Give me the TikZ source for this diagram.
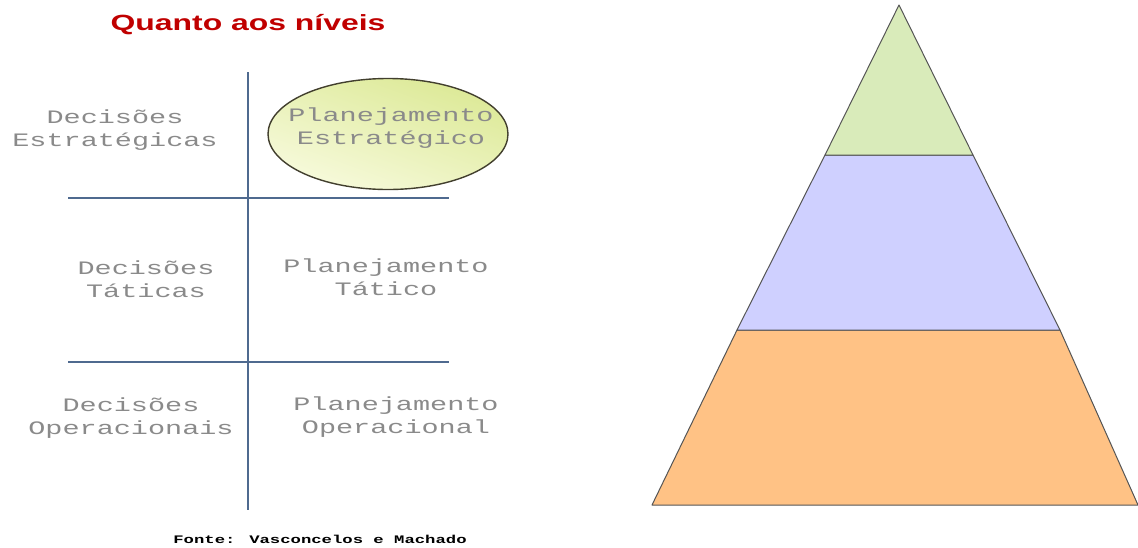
\documentclass[tikz,border=0pt]{standalone}
\usepackage{fontspec}
\setmainfont{Liberation Sans}
\newfontfamily\monofont{Liberation Mono}
\usetikzlibrary{shapes.geometric}
\definecolor{titlered}{HTML}{C00000}
\definecolor{txtgray}{HTML}{8A8A8A}
\definecolor{gridblue}{HTML}{4F6A8F}
\definecolor{pyrgreen}{HTML}{D9EBBA}
\definecolor{pyrblue}{HTML}{CFD0FF}
\definecolor{pyrorange}{HTML}{FFC285}
\definecolor{edgegray}{HTML}{555555}
\definecolor{ellA}{HTML}{DCE996}
\definecolor{ellB}{HTML}{F7FADC}
\tikzset{
  lbl/.style={font=\monofont\fontsize{19}{23}\selectfont, text=txtgray, align=center, xscale=1.5, transform shape, inner sep=0pt},
  gridline/.style={draw=gridblue, line width=1.3pt},
  tier/.style={draw=edgegray, line width=1pt, line join=round}
}
\begin{document}
\begin{tikzpicture}[x=1pt,y=-1pt]
\useasboundingbox (0,0) rectangle (1138,547);
% title
\node[font=\bfseries\fontsize{22}{26}\selectfont, text=titlered, xscale=1.45, transform shape, inner sep=0pt] (title) at (248,25) {Quanto aos níveis};
% grid
\coordinate (vtop) at (248,72);
\coordinate (vbot) at (248,510);
\coordinate (h1l) at (68,198);
\coordinate (h1r) at (449,198);
\coordinate (h2l) at (68,362);
\coordinate (h2r) at (449,362);
\draw[gridline] (vtop) -- (vbot);
\draw[gridline] (h1l) -- (h1r);
\draw[gridline] (h2l) -- (h2r);
% ellipse
\node[ellipse, minimum width=240pt, minimum height=111pt, draw=black!70!olive, line width=1.4pt, top color=ellA, bottom color=ellB, shading angle=-20] (ell) at (388,134) {};
% labels
\node[lbl] (de) at (115,130) {Decisões\\Estratégicas};
\node[lbl] (pe) at (391,128) {Planejamento\\Estratégico};
\node[lbl] (dt) at (146,279) {Decisões\\Táticas};
\node[lbl] (pt) at (386,277) {Planejamento\\Tático};
\node[lbl] (do) at (131,418) {Decisões\\Operacionais};
\node[lbl] (po) at (396,417) {Planejamento\\Operacional};
% source
\node[font=\monofont\bfseries\fontsize{11.5}{14}\selectfont, xscale=1.5, transform shape, inner sep=0pt] (fonte) at (320,539) {Fonte: Vasconcelos e Machado};
% pyramid
\coordinate (apex) at (899,5);
\coordinate (t1l) at (825,155);
\coordinate (t1r) at (973,155);
\coordinate (t2l) at (737,330);
\coordinate (t2r) at (1060,330);
\coordinate (bl) at (652,505);
\coordinate (br) at (1138,505);
\filldraw[tier, fill=pyrorange] (t2l) -- (t2r) -- (br) -- (bl) -- cycle;
\filldraw[tier, fill=pyrblue] (t1l) -- (t1r) -- (t2r) -- (t2l) -- cycle;
\filldraw[tier, fill=pyrgreen] (apex) -- (t1r) -- (t1l) -- cycle;
\end{tikzpicture}
\end{document}
